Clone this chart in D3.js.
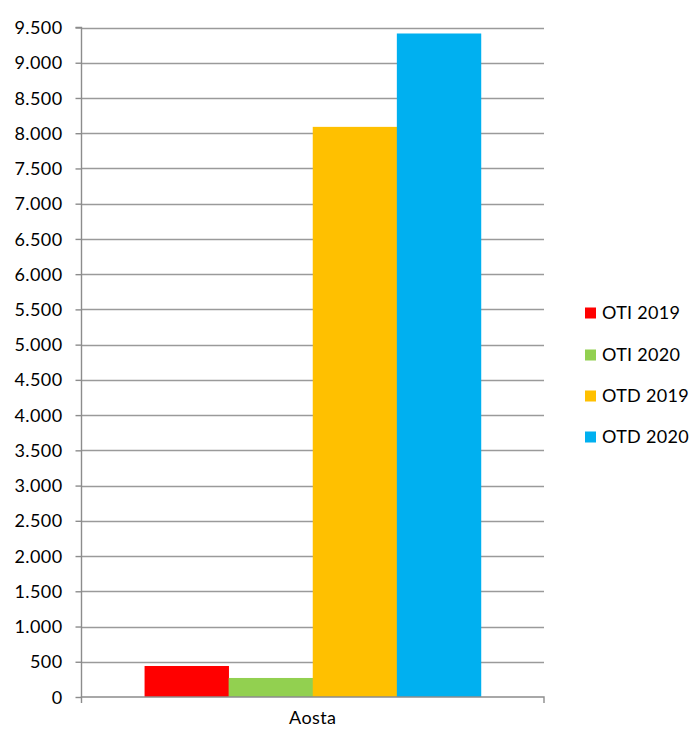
<!DOCTYPE html>
<html><head><meta charset="utf-8">
<script src="https://cdn.jsdelivr.net/npm/d3@7"></script>
<style>body{margin:0;background:#fff;} svg{display:block;}</style>
</head><body>
<svg id="c" width="689" height="731"></svg>
<script>
const categories = ["Aosta"];
const seriesNames = ["OTI 2019", "OTI 2020", "OTD 2019", "OTD 2020"];
const seriesValues = [440, 270, 8090, 9415];
const seriesColors = ["#FF0000", "#92D050", "#FFC000", "#00B0F0"];
const yTicks = [0,500,1000,1500,2000,2500,3000,3500,4000,4500,5000,5500,6000,6500,7000,7500,8000,8500,9000,9500];
const fmt = v => d3.format(",")(v).replace(/,/g, ".");

(function(){
const svg = d3.select("#c");
const pL = 81.5, pR = 544, pT = 27.5, pB = 697;
const font = "Lato, 'Open Sans', sans-serif";
const fs = 18;

const y = d3.scaleLinear().domain([0, 9500]).range([pB, pT]);
const x0 = d3.scaleBand().domain(categories).range([pL, pR]).paddingInner(0).paddingOuter(0);
// gap width 150% => 4 bars + 1.5 gap
const x1 = d3.scaleBand().domain(seriesNames).range([0, x0.bandwidth()]).paddingOuter(0.75).paddingInner(0);

svg.append("g").selectAll("line").data(yTicks.filter(d => d > 0)).join("line")
  .attr("x1", pL).attr("x2", pR)
  .attr("y1", d => Math.round(y(d)) + 0.5).attr("y2", d => Math.round(y(d)) + 0.5)
  .attr("stroke", "#9a9a9a").attr("stroke-width", 1.4);

const g = svg.append("g");
categories.forEach(cat => {
  g.selectAll("rect").data(seriesNames).join("rect")
    .attr("x", (d) => x0(cat) + x1(d))
    .attr("width", x1.bandwidth() + 0.3)
    .attr("y", (d, i) => y(seriesValues[i]))
    .attr("height", (d, i) => y(0) - y(seriesValues[i]))
    .attr("fill", (d, i) => seriesColors[i]);
});

const yAxis = d3.axisLeft(y).tickValues(yTicks).tickFormat(fmt).tickSize(6).tickPadding(13);
const ya = svg.append("g").attr("transform", `translate(${pL},0)`).call(yAxis);
ya.select(".domain").attr("stroke", "#8c8c8c").attr("stroke-width", 1.4).attr("d", `M-6,${pT}H0V${pB}`);
ya.selectAll(".tick line").attr("stroke", "#8c8c8c").attr("stroke-width", 1.4);
ya.selectAll(".tick text").attr("font-family", font).attr("font-size", fs).attr("letter-spacing", 0.4).attr("fill", "#000").attr("dy", "0.34em");

const xAxis = d3.axisBottom(x0).tickSize(0).tickPadding(14);
const xa = svg.append("g").attr("transform", `translate(0,${pB})`).call(xAxis);
xa.select(".domain").attr("stroke", "#8c8c8c").attr("stroke-width", 1.4).attr("d", `M${pL},6V0H${pR}V6`);
xa.selectAll(".tick text").attr("font-family", font).attr("font-size", fs).attr("letter-spacing", 0.4).attr("fill", "#000");

const lg = svg.append("g");
const legY = [313, 355, 396, 437];
seriesNames.forEach((n, i) => {
  lg.append("rect").attr("x", 585).attr("y", legY[i] - 5.5).attr("width", 11).attr("height", 11).attr("fill", seriesColors[i]);
  lg.append("text").attr("x", 602).attr("y", legY[i]).attr("dy", "0.36em")
    .attr("font-family", font).attr("font-size", fs).attr("letter-spacing", 0.3).attr("fill", "#000").text(n);
});
})();
</script>
</body></html>
